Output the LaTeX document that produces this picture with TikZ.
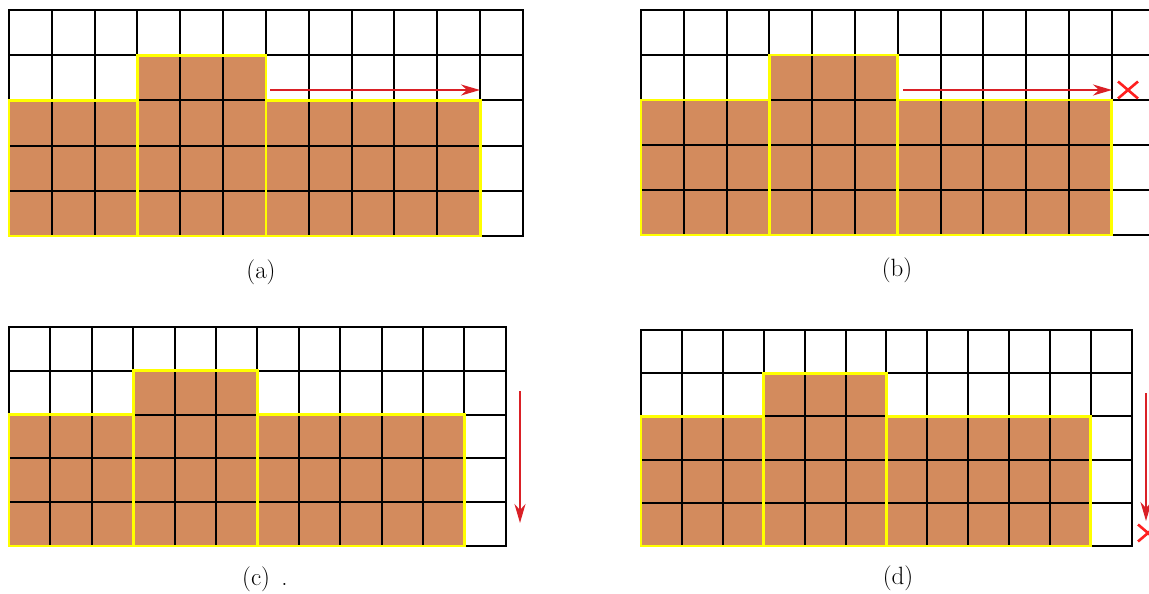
\documentclass[tikz,border=0pt]{standalone}
\usetikzlibrary{arrows.meta}
\definecolor{brick}{RGB}{211,139,93}
\definecolor{hl}{RGB}{255,255,0}
\definecolor{arr}{RGB}{218,32,38}
\definecolor{crs}{RGB}{255,32,32}
\newcommand\drawpanel[4]{%
  \begin{scope}[shift={(#1,#2)},x=#3pt,y=-#4pt]
    \fill[brick] (0,2) rectangle (11,5);
    \fill[brick] (3,1) rectangle (6,2);
    \foreach \i in {0,...,12} {\draw[gridline] (\i,0) -- (\i,5);}
    \foreach \j in {0,...,5} {\draw[gridline] (0,\j) -- (12,\j);}
    \draw[blockline] (0,2) rectangle (3,5);
    \draw[blockline] (3,1) rectangle (6,5);
    \draw[blockline] (6,2) rectangle (11,5);
  \end{scope}}
\begin{document}
\begin{tikzpicture}[x=1pt,y=-1pt,
  gridline/.style={black,line width=2pt,line cap=rect},
  blockline/.style={hl,line width=2.9pt},
  movearrow/.style={arr,line width=1.9pt,-{Stealth[length=19pt,width=11pt,inset=6pt]}},
  stopcross/.style={crs,line width=2.6pt},
  lbl/.style={font=\fontsize{25}{30}\selectfont,inner sep=0pt}]
  \useasboundingbox (0,0) rectangle (1149,594);
  \clip (0,0) rectangle (1149,594);
  \fill[white] (0,0) rectangle (1149,594);

  \drawpanel{9}{10}{42.83}{45.2}
  \drawpanel{641}{10}{42.8}{45.0}
  \drawpanel{9}{327}{41.4}{43.8}
  \drawpanel{641}{330}{40.9}{43.2}

  % arrows
  \coordinate (a1) at (270,90);
  \coordinate (a2) at (480,90);
  \draw[movearrow] (a1) -- (a2);
  \coordinate (b1) at (903,90);
  \coordinate (b2) at (1112,90);
  \draw[movearrow] (b1) -- (b2);
  \coordinate (c1) at (520,391);
  \coordinate (c2) at (520,523);
  \draw[movearrow] (c1) -- (c2);
  \coordinate (d1) at (1146,393);
  \coordinate (d2) at (1146,521);
  \draw[movearrow] (d1) -- (d2);

  % crosses
  \coordinate (bx) at (1128,90);
  \draw[stopcross] ([shift={(-10,-8.5)}]bx) -- ([shift={(10,8.5)}]bx)
                   ([shift={(-10,8.5)}]bx) -- ([shift={(10,-8.5)}]bx);
  \coordinate (dx) at (1148,533);
  \draw[stopcross] ([shift={(-10,-8.5)}]dx) -- ([shift={(10,8.5)}]dx)
                   ([shift={(-10,8.5)}]dx) -- ([shift={(10,-8.5)}]dx);

  % labels
  \node[lbl] (la) at (261,272) {(a)};
  \node[lbl] (lb) at (897,270) {(b)};
  \node[lbl,anchor=west] (lc) at (242,579) {(c)\hspace{0.45em}.};
  \node[lbl] (ld) at (898,578) {(d)};
\end{tikzpicture}
\end{document}
